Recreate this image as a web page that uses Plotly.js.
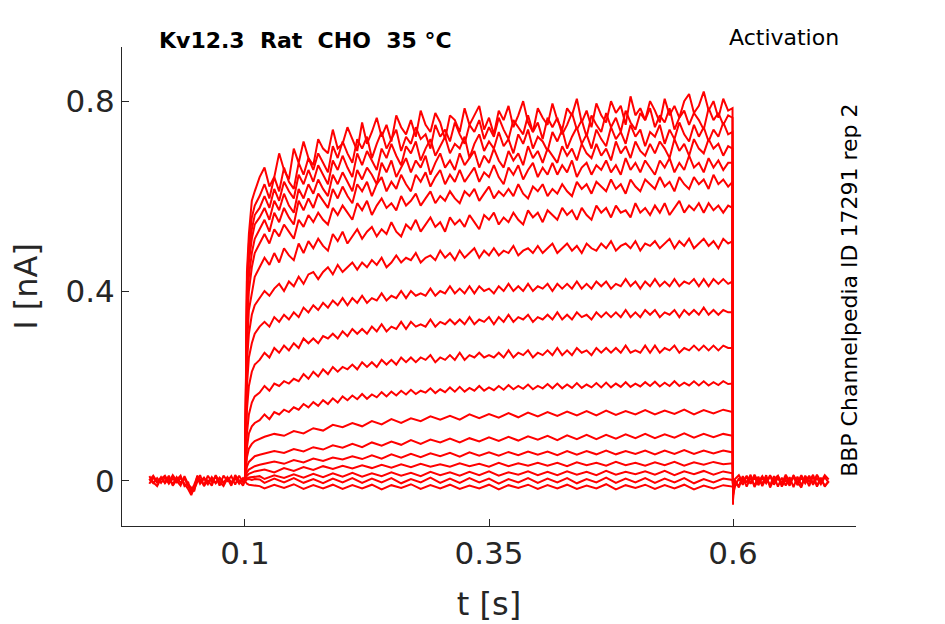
<!DOCTYPE html>
<html>
<head>
<meta charset="utf-8">
<script src="https://cdn.plot.ly/plotly-3.0.1.min.js"></script>
<style>
  body { margin: 0; background: #fff; }
  #plot { width: 945px; height: 624px; }
</style>
</head>
<body>
<div id="plot"></div>
<script>
// Kv12.3 activation recordings, current in nA against time in s

// holding period before the step
const tPre = [0.002, 0.006, 0.01, 0.014, 0.018, 0.022, 0.026, 0.03, 0.034, 0.038,
  0.042, 0.045, 0.048, 0.051, 0.054, 0.058, 0.062, 0.066, 0.07, 0.074,
  0.078, 0.082, 0.086, 0.09, 0.094, 0.098, 0.1];
const holdA = [0.004, -0.005, 0.006, -0.004, 0.007, -0.006, 0.005, -0.003, 0.006, -0.005,
  -0.018, -0.03, -0.012, 0.006, -0.002, 0.007, -0.004, 0.006, -0.005, 0.007,
  -0.003, 0.006, -0.006, 0.005, -0.004, 0.006, 0.0];
const holdB = [-0.006, 0.007, -0.004, 0.008, -0.005, 0.006, -0.007, 0.008, -0.004, 0.005,
  -0.012, -0.02, -0.008, 0.008, -0.006, 0.005, -0.007, 0.008, -0.004, 0.006,
  -0.006, 0.008, -0.003, 0.007, -0.006, 0.005, 0.0];
const holdC = [0.001, 0.011, -0.002, 0.004, 0.011, -0.003, 0.012, 0.0, -0.01, 0.01,
  -0.008, -0.014, -0.022, 0.011, 0.003, -0.009, 0.011, -0.002, 0.01, -0.01,
  0.011, 0.0, 0.01, -0.008, 0.011, -0.003, 0.0];
const holdD = [0.01, -0.003, -0.011, 0.005, -0.003, 0.011, -0.01, 0.002, 0.011, -0.011,
  -0.004, -0.026, -0.018, -0.004, 0.012, -0.011, 0.001, -0.01, 0.012, -0.002,
  -0.011, 0.005, -0.01, 0.012, 0.002, -0.01, 0.0];

// test step, 0.1 s to 0.6 s, 5 ms sampling for the larger sweeps
const tFine = [0.1, 0.101, 0.102, 0.104, 0.107, 0.11, 0.115,
  0.12, 0.125, 0.13, 0.135, 0.14, 0.145, 0.15, 0.155, 0.16, 0.165,
  0.17, 0.175, 0.18, 0.185, 0.19, 0.195, 0.2, 0.205, 0.21, 0.215,
  0.22, 0.225, 0.23, 0.235, 0.24, 0.245, 0.25, 0.255, 0.26, 0.265,
  0.27, 0.275, 0.28, 0.285, 0.29, 0.295, 0.3, 0.305, 0.31, 0.315,
  0.32, 0.325, 0.33, 0.335, 0.34, 0.345, 0.35, 0.355, 0.36, 0.365,
  0.37, 0.375, 0.38, 0.385, 0.39, 0.395, 0.4, 0.405, 0.41, 0.415,
  0.42, 0.425, 0.43, 0.435, 0.44, 0.445, 0.45, 0.455, 0.46, 0.465,
  0.47, 0.475, 0.48, 0.485, 0.49, 0.495, 0.5, 0.505, 0.51, 0.515,
  0.52, 0.525, 0.53, 0.535, 0.54, 0.545, 0.55, 0.555, 0.56, 0.565,
  0.57, 0.575, 0.58, 0.585, 0.59, 0.595,
  0.5995, 0.6];

const sweepA = [0, 0.24, 0.44, 0.52, 0.59, 0.61, 0.64,
  0.66, 0.62, 0.64, 0.69, 0.655, 0.635, 0.7, 0.67, 0.715, 0.68,
  0.665, 0.72, 0.7, 0.69, 0.74, 0.7, 0.71, 0.745, 0.72, 0.695,
  0.755, 0.71, 0.735, 0.765, 0.725, 0.75, 0.715, 0.77, 0.745, 0.73,
  0.76, 0.725, 0.78, 0.75, 0.735, 0.775, 0.755, 0.72, 0.77, 0.76,
  0.735, 0.785, 0.75, 0.77, 0.79, 0.74, 0.765, 0.73, 0.78, 0.76,
  0.79, 0.745, 0.77, 0.8, 0.755, 0.735, 0.785, 0.765, 0.75, 0.795,
  0.76, 0.74, 0.785, 0.77, 0.805, 0.755, 0.78, 0.745, 0.795, 0.77,
  0.755, 0.8, 0.775, 0.79, 0.75, 0.81, 0.77, 0.785, 0.76, 0.8,
  0.78, 0.755, 0.805, 0.77, 0.79, 0.765, 0.8, 0.815, 0.775, 0.79,
  0.82, 0.78, 0.8, 0.765, 0.805, 0.78,
  0.785, -0.05];
const sweepB = [0, 0.22, 0.42, 0.5, 0.555, 0.58, 0.6,
  0.625, 0.595, 0.64, 0.61, 0.66, 0.63, 0.615, 0.67, 0.645, 0.68,
  0.655, 0.69, 0.67, 0.65, 0.705, 0.68, 0.715, 0.69, 0.67, 0.72,
  0.7, 0.725, 0.68, 0.71, 0.735, 0.7, 0.72, 0.74, 0.695, 0.725,
  0.71, 0.745, 0.72, 0.73, 0.7, 0.75, 0.725, 0.74, 0.715, 0.755,
  0.73, 0.71, 0.75, 0.735, 0.76, 0.72, 0.745, 0.725, 0.765, 0.74,
  0.72, 0.76, 0.745, 0.73, 0.77, 0.735, 0.755, 0.72, 0.765, 0.745,
  0.765, 0.73, 0.75, 0.775, 0.74, 0.76, 0.725, 0.77, 0.75, 0.735,
  0.775, 0.745, 0.765, 0.735, 0.78, 0.755, 0.74, 0.775, 0.76, 0.785,
  0.745, 0.77, 0.755, 0.785, 0.74, 0.765, 0.78, 0.75, 0.775, 0.76,
  0.74, 0.785, 0.76, 0.775, 0.75, 0.77,
  0.765, -0.03];
const sweepC = [0, 0.2, 0.4, 0.48, 0.53, 0.56, 0.575,
  0.6, 0.575, 0.615, 0.59, 0.63, 0.61, 0.595, 0.645, 0.625, 0.655,
  0.63, 0.665, 0.645, 0.625, 0.675, 0.655, 0.685, 0.66, 0.64, 0.69,
  0.665, 0.695, 0.675, 0.655, 0.7, 0.68, 0.71, 0.685, 0.665, 0.705,
  0.69, 0.715, 0.675, 0.7, 0.72, 0.685, 0.705, 0.725, 0.69, 0.71,
  0.7, 0.725, 0.68, 0.71, 0.73, 0.695, 0.715, 0.7, 0.735, 0.705,
  0.72, 0.69, 0.73, 0.71, 0.74, 0.7, 0.725, 0.715, 0.695, 0.735,
  0.715, 0.74, 0.7, 0.725, 0.745, 0.71, 0.73, 0.7, 0.74, 0.72,
  0.705, 0.745, 0.72, 0.735, 0.71, 0.75, 0.725, 0.74, 0.705, 0.735,
  0.725, 0.75, 0.71, 0.74, 0.72, 0.755, 0.73, 0.715, 0.75, 0.725,
  0.745, 0.715, 0.74, 0.725, 0.755, 0.73,
  0.735, -0.03];
const sweepD = [0, 0.19, 0.38, 0.46, 0.51, 0.54, 0.555,
  0.575, 0.55, 0.59, 0.57, 0.605, 0.58, 0.565, 0.615, 0.595, 0.625,
  0.605, 0.635, 0.615, 0.6, 0.645, 0.625, 0.65, 0.63, 0.61, 0.655,
  0.635, 0.66, 0.645, 0.625, 0.67, 0.65, 0.675, 0.64, 0.66, 0.68,
  0.65, 0.675, 0.66, 0.685, 0.645, 0.67, 0.69, 0.66, 0.675, 0.655,
  0.69, 0.665, 0.68, 0.695, 0.66, 0.685, 0.67, 0.7, 0.675, 0.66,
  0.695, 0.675, 0.69, 0.665, 0.705, 0.68, 0.695, 0.67, 0.7, 0.685,
  0.67, 0.705, 0.685, 0.7, 0.675, 0.71, 0.69, 0.68, 0.71, 0.685,
  0.7, 0.675, 0.715, 0.69, 0.705, 0.68, 0.715, 0.695, 0.685, 0.71,
  0.69, 0.715, 0.7, 0.68, 0.72, 0.695, 0.71, 0.685, 0.72, 0.7,
  0.69, 0.72, 0.7, 0.71, 0.685, 0.705,
  0.7, -0.03];
const sweepE = [0, 0.17, 0.35, 0.43, 0.48, 0.51, 0.53,
  0.55, 0.525, 0.565, 0.545, 0.575, 0.555, 0.54, 0.59, 0.57, 0.595,
  0.575, 0.605, 0.59, 0.575, 0.615, 0.595, 0.62, 0.6, 0.585, 0.625,
  0.61, 0.63, 0.6, 0.625, 0.64, 0.61, 0.63, 0.615, 0.645, 0.625,
  0.61, 0.645, 0.63, 0.65, 0.62, 0.64, 0.655, 0.625, 0.645, 0.63,
  0.655, 0.63, 0.645, 0.66, 0.63, 0.65, 0.64, 0.665, 0.64, 0.625,
  0.66, 0.645, 0.665, 0.635, 0.655, 0.67, 0.64, 0.66, 0.645, 0.67,
  0.645, 0.665, 0.65, 0.675, 0.64, 0.66, 0.67, 0.645, 0.665, 0.655,
  0.675, 0.65, 0.665, 0.645, 0.68, 0.655, 0.67, 0.65, 0.675, 0.66,
  0.645, 0.675, 0.66, 0.68, 0.65, 0.67, 0.655, 0.685, 0.66, 0.67,
  0.65, 0.68, 0.66, 0.675, 0.655, 0.67,
  0.67, -0.025];
const sweepF = [0, 0.16, 0.32, 0.4, 0.45, 0.48, 0.5,
  0.52, 0.5, 0.53, 0.515, 0.54, 0.525, 0.51, 0.55, 0.535, 0.56,
  0.545, 0.565, 0.55, 0.54, 0.575, 0.56, 0.58, 0.565, 0.55, 0.585,
  0.57, 0.59, 0.56, 0.58, 0.595, 0.575, 0.585, 0.57, 0.6, 0.58,
  0.59, 0.605, 0.58, 0.595, 0.61, 0.585, 0.6, 0.59, 0.61, 0.595,
  0.585, 0.61, 0.6, 0.615, 0.59, 0.605, 0.62, 0.595, 0.61, 0.6,
  0.615, 0.6, 0.625, 0.605, 0.595, 0.62, 0.61, 0.625, 0.6, 0.615,
  0.605, 0.625, 0.61, 0.6, 0.63, 0.615, 0.625, 0.605, 0.63, 0.62,
  0.61, 0.635, 0.615, 0.625, 0.605, 0.635, 0.62, 0.61, 0.635, 0.625,
  0.615, 0.64, 0.62, 0.63, 0.61, 0.64, 0.625, 0.615, 0.64, 0.625,
  0.635, 0.615, 0.645, 0.625, 0.635, 0.62,
  0.63, -0.025];
const sweepG = [0, 0.14, 0.28, 0.36, 0.4, 0.43, 0.45,
  0.47, 0.455, 0.48, 0.46, 0.49, 0.475, 0.465, 0.5, 0.48, 0.505,
  0.49, 0.51, 0.495, 0.485, 0.52, 0.505, 0.525, 0.5, 0.515, 0.53,
  0.51, 0.525, 0.535, 0.515, 0.53, 0.52, 0.545, 0.525, 0.515, 0.54,
  0.53, 0.55, 0.525, 0.54, 0.555, 0.535, 0.545, 0.525, 0.555, 0.54,
  0.55, 0.535, 0.56, 0.545, 0.53, 0.56, 0.55, 0.565, 0.54, 0.555,
  0.545, 0.565, 0.55, 0.54, 0.57, 0.555, 0.565, 0.545, 0.57, 0.56,
  0.55, 0.575, 0.56, 0.57, 0.55, 0.575, 0.56, 0.55, 0.58, 0.565,
  0.575, 0.555, 0.58, 0.565, 0.57, 0.555, 0.585, 0.565, 0.575, 0.56,
  0.58, 0.565, 0.585, 0.56, 0.575, 0.59, 0.565, 0.58, 0.57, 0.585,
  0.565, 0.585, 0.57, 0.58, 0.565, 0.58,
  0.575, -0.02];
const sweepH = [0, 0.13, 0.25, 0.31, 0.35, 0.37, 0.385,
  0.4, 0.39, 0.405, 0.415, 0.4, 0.42, 0.41, 0.43, 0.415, 0.435,
  0.44, 0.425, 0.44, 0.45, 0.435, 0.455, 0.44, 0.45, 0.46, 0.445,
  0.46, 0.45, 0.465, 0.455, 0.47, 0.45, 0.46, 0.475, 0.46, 0.47,
  0.465, 0.48, 0.46, 0.47, 0.475, 0.465, 0.485, 0.47, 0.48, 0.465,
  0.485, 0.47, 0.48, 0.49, 0.47, 0.485, 0.475, 0.49, 0.475, 0.485,
  0.48, 0.495, 0.475, 0.485, 0.49, 0.48, 0.495, 0.48, 0.49, 0.5,
  0.48, 0.49, 0.5, 0.485, 0.495, 0.48, 0.5, 0.49, 0.485, 0.5,
  0.49, 0.505, 0.485, 0.495, 0.5, 0.49, 0.505, 0.485, 0.5, 0.495,
  0.505, 0.49, 0.5, 0.51, 0.49, 0.505, 0.495, 0.51, 0.49, 0.5,
  0.51, 0.495, 0.505, 0.49, 0.51, 0.5,
  0.505, -0.02];
const sweepI = [0, 0.1, 0.2, 0.26, 0.29, 0.31, 0.325,
  0.335, 0.325, 0.345, 0.335, 0.35, 0.34, 0.355, 0.345, 0.365, 0.355,
  0.37, 0.36, 0.375, 0.365, 0.38, 0.37, 0.385, 0.37, 0.385, 0.375,
  0.39, 0.375, 0.385, 0.38, 0.395, 0.38, 0.39, 0.385, 0.4, 0.385,
  0.4, 0.39, 0.395, 0.39, 0.405, 0.39, 0.4, 0.395, 0.41, 0.395,
  0.405, 0.395, 0.41, 0.395, 0.41, 0.4, 0.405, 0.395, 0.41, 0.4,
  0.415, 0.4, 0.41, 0.4, 0.415, 0.4, 0.41, 0.405, 0.415, 0.4,
  0.415, 0.405, 0.415, 0.405, 0.42, 0.405, 0.415, 0.405, 0.42, 0.41,
  0.42, 0.405, 0.415, 0.41, 0.425, 0.41, 0.42, 0.405, 0.42, 0.41,
  0.425, 0.41, 0.42, 0.41, 0.425, 0.41, 0.42, 0.415, 0.425, 0.41,
  0.425, 0.41, 0.425, 0.415, 0.425, 0.415,
  0.42, -0.015];
const sweepJ = [0, 0.07, 0.15, 0.2, 0.23, 0.245, 0.255,
  0.27, 0.26, 0.28, 0.27, 0.285, 0.275, 0.29, 0.28, 0.3, 0.29,
  0.3, 0.29, 0.305, 0.3, 0.31, 0.3, 0.315, 0.305, 0.32, 0.31,
  0.32, 0.31, 0.325, 0.315, 0.33, 0.315, 0.325, 0.32, 0.335, 0.32,
  0.335, 0.325, 0.33, 0.325, 0.34, 0.325, 0.335, 0.33, 0.34, 0.33,
  0.34, 0.33, 0.345, 0.33, 0.34, 0.335, 0.345, 0.33, 0.345, 0.335,
  0.35, 0.335, 0.345, 0.34, 0.35, 0.335, 0.345, 0.34, 0.35, 0.34,
  0.355, 0.34, 0.35, 0.34, 0.355, 0.345, 0.35, 0.34, 0.355, 0.345,
  0.355, 0.345, 0.355, 0.345, 0.36, 0.345, 0.355, 0.345, 0.36, 0.35,
  0.36, 0.345, 0.355, 0.35, 0.36, 0.345, 0.36, 0.35, 0.36, 0.35,
  0.365, 0.35, 0.36, 0.35, 0.36, 0.355,
  0.355, -0.015];
const sweepK = [0, 0.05, 0.1, 0.14, 0.165, 0.178, 0.186,
  0.2, 0.19, 0.205, 0.2, 0.21, 0.205, 0.215, 0.21, 0.225, 0.215,
  0.23, 0.22, 0.235, 0.225, 0.24, 0.23, 0.24, 0.235, 0.245, 0.235,
  0.25, 0.24, 0.25, 0.24, 0.255, 0.245, 0.255, 0.245, 0.26, 0.25,
  0.26, 0.25, 0.26, 0.255, 0.265, 0.25, 0.26, 0.255, 0.265, 0.255,
  0.27, 0.255, 0.265, 0.26, 0.27, 0.26, 0.265, 0.26, 0.27, 0.26,
  0.275, 0.26, 0.27, 0.265, 0.275, 0.26, 0.27, 0.265, 0.275, 0.265,
  0.28, 0.265, 0.275, 0.265, 0.28, 0.27, 0.275, 0.265, 0.28, 0.27,
  0.28, 0.27, 0.28, 0.27, 0.285, 0.27, 0.275, 0.27, 0.285, 0.27,
  0.285, 0.27, 0.28, 0.275, 0.285, 0.27, 0.28, 0.275, 0.285, 0.275,
  0.285, 0.275, 0.285, 0.275, 0.285, 0.28,
  0.28, -0.015];
const sweepL = [0, 0.035, 0.07, 0.1, 0.115, 0.122, 0.128,
  0.14, 0.13, 0.145, 0.14, 0.15, 0.145, 0.155, 0.15, 0.162, 0.155,
  0.166, 0.158, 0.17, 0.162, 0.174, 0.165, 0.178, 0.17, 0.18, 0.172,
  0.183, 0.173, 0.182, 0.176, 0.187, 0.178, 0.188, 0.18, 0.19, 0.182,
  0.192, 0.183, 0.19, 0.186, 0.195, 0.185, 0.193, 0.187, 0.197, 0.188,
  0.198, 0.188, 0.196, 0.19, 0.2, 0.19, 0.197, 0.191, 0.2, 0.192,
  0.202, 0.193, 0.2, 0.194, 0.203, 0.193, 0.2, 0.195, 0.204, 0.195,
  0.205, 0.195, 0.203, 0.196, 0.206, 0.196, 0.203, 0.197, 0.206, 0.197,
  0.207, 0.197, 0.205, 0.198, 0.208, 0.198, 0.205, 0.199, 0.208, 0.2,
  0.209, 0.199, 0.207, 0.2, 0.21, 0.2, 0.207, 0.201, 0.21, 0.201,
  0.21, 0.201, 0.208, 0.202, 0.21, 0.204,
  0.205, -0.012];

// smaller sweeps, 10 ms sampling
const tCoarse = [0.1, 0.101, 0.102, 0.104, 0.107, 0.11, 0.115,
  0.12, 0.13, 0.14, 0.15, 0.16, 0.17, 0.18, 0.19, 0.2,
  0.21, 0.22, 0.23, 0.24, 0.25, 0.26, 0.27, 0.28, 0.29, 0.3,
  0.31, 0.32, 0.33, 0.34, 0.35, 0.36, 0.37, 0.38, 0.39, 0.4,
  0.41, 0.42, 0.43, 0.44, 0.45, 0.46, 0.47, 0.48, 0.49, 0.5,
  0.51, 0.52, 0.53, 0.54, 0.55, 0.56, 0.57, 0.58, 0.59,
  0.5995, 0.6];
const sweepM = [0, 0.025, 0.05, 0.068, 0.078, 0.084, 0.088,
  0.093, 0.099, 0.095, 0.105, 0.1, 0.111, 0.106, 0.118, 0.113,
  0.122, 0.115, 0.126, 0.119, 0.13, 0.122, 0.132, 0.126, 0.136, 0.129,
  0.137, 0.129, 0.14, 0.132, 0.141, 0.133, 0.143, 0.134, 0.144, 0.136,
  0.145, 0.137, 0.146, 0.138, 0.147, 0.138, 0.148, 0.139, 0.147, 0.14,
  0.149, 0.14, 0.148, 0.141, 0.15, 0.14, 0.149, 0.142, 0.15,
  0.145, -0.012];
const sweepN = [0, 0.015, 0.03, 0.04, 0.047, 0.052, 0.055,
  0.058, 0.063, 0.059, 0.067, 0.062, 0.071, 0.066, 0.075, 0.07,
  0.078, 0.071, 0.081, 0.074, 0.083, 0.076, 0.086, 0.078, 0.087, 0.081,
  0.089, 0.081, 0.09, 0.083, 0.092, 0.084, 0.093, 0.085, 0.094, 0.087,
  0.095, 0.086, 0.096, 0.088, 0.097, 0.088, 0.097, 0.089, 0.098, 0.09,
  0.099, 0.09, 0.098, 0.091, 0.1, 0.091, 0.099, 0.092, 0.099,
  0.095, -0.01];
const sweepO = [0, 0.01, 0.018, 0.024, 0.028, 0.031, 0.034,
  0.036, 0.041, 0.036, 0.044, 0.039, 0.047, 0.042, 0.049, 0.045,
  0.052, 0.046, 0.054, 0.047, 0.056, 0.049, 0.057, 0.05, 0.058, 0.052,
  0.059, 0.051, 0.06, 0.053, 0.06, 0.053, 0.061, 0.054, 0.062, 0.055,
  0.062, 0.054, 0.063, 0.055, 0.063, 0.056, 0.064, 0.056, 0.063, 0.057,
  0.064, 0.056, 0.064, 0.057, 0.065, 0.057, 0.064, 0.058, 0.064,
  0.06, -0.01];
const sweepP = [0, 0.006, 0.011, 0.015, 0.018, 0.02, 0.022,
  0.024, 0.018, 0.027, 0.021, 0.029, 0.023, 0.031, 0.025, 0.032,
  0.026, 0.033, 0.027, 0.034, 0.028, 0.035, 0.029, 0.036, 0.03, 0.035,
  0.03, 0.037, 0.031, 0.036, 0.03, 0.038, 0.031, 0.037, 0.032, 0.038,
  0.032, 0.038, 0.031, 0.039, 0.033, 0.038, 0.032, 0.04, 0.033, 0.038,
  0.032, 0.039, 0.033, 0.04, 0.032, 0.039, 0.034, 0.04, 0.035,
  0.037, -0.01];
const sweepQ = [0, 0.003, 0.005, 0.007, 0.008, 0.009, 0.01,
  0.004, 0.012, 0.006, 0.014, 0.007, 0.015, 0.008, 0.016, 0.009,
  0.017, 0.009, 0.016, 0.01, 0.018, 0.011, 0.017, 0.01, 0.019, 0.012,
  0.018, 0.011, 0.019, 0.012, 0.02, 0.011, 0.018, 0.013, 0.02, 0.012,
  0.019, 0.012, 0.02, 0.013, 0.019, 0.012, 0.021, 0.013, 0.019, 0.014,
  0.02, 0.013, 0.021, 0.012, 0.02, 0.014, 0.021, 0.013, 0.02,
  0.016, -0.01];
const sweepR = [0, 0.002, 0.003, 0.004, 0.002, 0.004, 0.003,
  -0.004, 0.005, -0.003, 0.006, -0.004, 0.004, -0.005, 0.005, -0.003,
  0.006, -0.004, 0.005, -0.003, 0.006, -0.005, 0.004, -0.003, 0.007, -0.004,
  0.005, -0.004, 0.006, -0.003, 0.005, -0.006, 0.004, -0.003, 0.006, -0.004,
  0.005, -0.003, 0.006, -0.005, 0.004, -0.003, 0.007, -0.004, 0.005, -0.003,
  0.006, -0.004, 0.005, -0.003, 0.006, -0.005, 0.004, -0.003, 0.005,
  0.002, -0.01];
const sweepS = [0, -0.004, -0.006, -0.008, -0.009, -0.01, -0.011,
  -0.016, -0.008, -0.015, -0.007, -0.017, -0.009, -0.016, -0.008, -0.017,
  -0.009, -0.016, -0.008, -0.018, -0.009, -0.015, -0.007, -0.017, -0.009, -0.016,
  -0.008, -0.017, -0.01, -0.016, -0.008, -0.018, -0.009, -0.015, -0.008, -0.017,
  -0.009, -0.016, -0.008, -0.017, -0.01, -0.016, -0.007, -0.018, -0.009, -0.015,
  -0.008, -0.017, -0.009, -0.016, -0.008, -0.018, -0.01, -0.016, -0.009,
  -0.012, -0.015];

// tail after the step
const tPost = [0.6, 0.602, 0.606, 0.61, 0.614, 0.618, 0.622, 0.626, 0.63, 0.634,
  0.638, 0.642, 0.646, 0.65, 0.654, 0.658, 0.662, 0.666, 0.67, 0.674,
  0.678, 0.682, 0.686, 0.69, 0.694, 0.698];
const tailA = [-0.03, -0.012, 0.006, -0.008, 0.009, -0.006, 0.008, -0.009, 0.007, -0.005,
  0.01, -0.008, 0.006, -0.007, 0.009, -0.006, 0.008, -0.009, 0.007, -0.005,
  0.009, -0.008, 0.006, -0.007, 0.008, -0.004];
const tailB = [-0.02, -0.006, -0.01, 0.008, -0.012, 0.007, -0.01, 0.009, -0.011, 0.006,
  -0.009, 0.01, -0.012, 0.007, -0.01, 0.008, -0.013, 0.009, -0.009, 0.008,
  -0.011, 0.01, -0.01, 0.007, -0.012, 0.0];
const tailC = [-0.01, 0.004, 0.012, -0.003, 0.011, -0.005, 0.013, -0.002, 0.01, -0.004,
  0.012, -0.003, 0.011, -0.006, 0.013, -0.002, 0.01, -0.004, 0.012, -0.003,
  0.011, -0.005, 0.013, -0.002, 0.012, 0.003];
const tailD = [-0.04, 0.002, -0.014, 0.01, -0.004, 0.013, -0.013, 0.003, -0.006, 0.012,
  -0.014, 0.004, 0.011, -0.012, 0.002, -0.01, 0.012, -0.003, -0.014, 0.011,
  -0.002, 0.013, -0.012, 0.004, -0.01, -0.002];

const xTicks = [0.1, 0.35, 0.6];
const xTickText = ["0.1", "0.35", "0.6"];
const yTicks = [0, 0.4, 0.8];
const yTickText = ["0", "0.4", "0.8"];

const fineSweeps = [sweepL, sweepK, sweepJ, sweepI, sweepH, sweepG, sweepF,
  sweepE, sweepD, sweepC, sweepB, sweepA];
const coarseSweeps = [sweepS, sweepR, sweepQ, sweepP, sweepO, sweepN, sweepM];
const holds = [holdA, holdB, holdC, holdD];
const tails = [tailA, tailB, tailC, tailD];

const red = "#ff0000";
const lw = 2;
const traces = [];
function addTrace(x, y) {
	traces.push({type: "scatter", mode: "lines", x: x, y: y,
		line: {color: red, width: lw}, hoverinfo: "skip"});
}
for (let h of holds) addTrace(tPre, h);
for (let s of coarseSweeps) addTrace(tCoarse, s);
for (let s of fineSweeps) addTrace(tFine, s);
for (let t of tails) addTrace(tPost, t);

const ink = "#262626";
const font = "DejaVu Sans, sans-serif";

const layout = {
	width: 945, height: 624,
	margin: {l: 122, r: 89, t: 47, b: 98},
	paper_bgcolor: "#fff", plot_bgcolor: "#fff",
	showlegend: false,
	font: {family: font, color: ink},
	xaxis: {
		range: [-0.026, 0.726],
		tickvals: xTicks, ticktext: xTickText,
		ticks: "inside", ticklen: 7, tickcolor: ink, tickwidth: 1,
		showline: true, linecolor: ink, linewidth: 1,
		showgrid: false, zeroline: false,
		tickfont: {size: 31, color: ink},
		title: {text: "t [s]", font: {size: 32, color: ink}, standoff: 22}
	},
	yaxis: {
		range: [-0.095, 0.914],
		tickvals: yTicks, ticktext: yTickText,
		ticks: "inside", ticklen: 7, tickcolor: ink, tickwidth: 1,
		showline: true, linecolor: ink, linewidth: 1,
		showgrid: false, zeroline: false,
		tickfont: {size: 31, color: ink},
		title: {text: "I [nA]", font: {size: 32, color: ink}, standoff: 18}
	},
	annotations: [
		{text: "<b>Kv12.3 \u00a0Rat \u00a0CHO \u00a035 °C</b>", xref: "paper", yref: "paper",
		 x: 0.0477, y: 1.0146, xanchor: "left", yanchor: "middle", showarrow: false,
		 font: {size: 22, color: "#000"}},
		{text: "Activation", xref: "paper", yref: "paper",
		 x: 0.98, y: 1.0188, xanchor: "right", yanchor: "middle", showarrow: false,
		 font: {size: 22, color: "#000"}},
		{text: "BBP Channelpedia ID 17291 rep 2", xref: "paper", yref: "paper",
		 x: 0.9918, y: 0.493, xanchor: "center", yanchor: "middle", textangle: -90,
		 showarrow: false, font: {size: 22, color: "#000"}}
	]
};

Plotly.newPlot("plot", traces, layout, {displayModeBar: false, staticPlot: true});
</script>
</body>
</html>
